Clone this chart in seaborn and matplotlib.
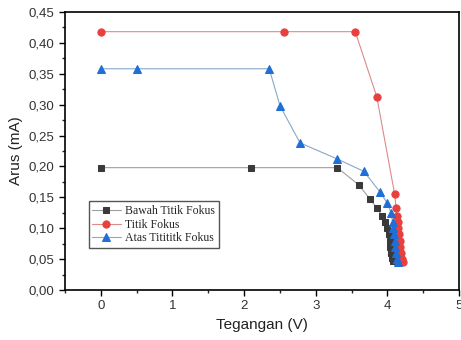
import matplotlib
matplotlib.use("Agg")
import matplotlib.pyplot as plt
import seaborn as sns
from matplotlib.ticker import MultipleLocator, FuncFormatter

sns.set_style("white")
plt.rcParams['font.family'] = ['Liberation Sans', 'DejaVu Sans']

# data
bawah_v = [0.0, 2.1, 3.3, 3.6, 3.75, 3.85, 3.92, 3.97, 4.0, 4.02, 4.03, 4.04, 4.05, 4.06, 4.07]
bawah_i = [0.198, 0.198, 0.198, 0.170, 0.148, 0.133, 0.120, 0.110, 0.100, 0.090, 0.080, 0.070, 0.060, 0.052, 0.047]

fokus_v = [0.0, 2.55, 3.55, 3.85, 4.1, 4.12, 4.13, 4.14, 4.15, 4.16, 4.17, 4.18, 4.19, 4.2, 4.21]
fokus_i = [0.418, 0.418, 0.418, 0.313, 0.155, 0.133, 0.120, 0.110, 0.100, 0.090, 0.080, 0.070, 0.060, 0.050, 0.045]

atas_v = [0.0, 0.5, 2.35, 2.5, 2.78, 3.3, 3.67, 3.9, 4.0, 4.05, 4.07, 4.08, 4.09, 4.1, 4.11, 4.12, 4.13, 4.14]
atas_i = [0.358, 0.358, 0.358, 0.298, 0.238, 0.212, 0.192, 0.158, 0.140, 0.125, 0.110, 0.100, 0.090, 0.080, 0.070, 0.060, 0.050, 0.045]

fig = plt.figure(figsize=(4.61, 3.4), dpi=100)
ax = fig.add_axes([0.141, 0.147, 0.855, 0.818])

sns.lineplot(x=bawah_v, y=bawah_i, sort=False, ax=ax, color='#a0a0a0', lw=0.8,
             marker='s', markersize=4.5, markerfacecolor='#3a3a3a', markeredgecolor='#3a3a3a',
             label='Bawah Titik Fokus')
sns.lineplot(x=fokus_v, y=fokus_i, sort=False, ax=ax, color='#dc8a8a', lw=0.8,
             marker='o', markersize=5.2, markerfacecolor='#e8403f', markeredgecolor='#e8403f',
             label='Titik Fokus')
sns.lineplot(x=atas_v, y=atas_i, sort=False, ax=ax, color='#88a9c6', lw=0.8,
             marker='^', markersize=5.8, markerfacecolor='#1f6fd6', markeredgecolor='#1f6fd6',
             label='Atas Titititk Fokus')

ax.set_xlim(-0.5, 5)
ax.set_ylim(0, 0.45)
ax.xaxis.set_major_locator(MultipleLocator(1))
ax.xaxis.set_minor_locator(MultipleLocator(0.5))
ax.yaxis.set_major_locator(MultipleLocator(0.05))
ax.yaxis.set_minor_locator(MultipleLocator(0.025))
ax.yaxis.set_major_formatter(FuncFormatter(lambda v, p: f"{v:.2f}".replace('.', ',')))
ax.tick_params(which='major', direction='out', length=4, width=1, labelsize=9.5,
               bottom=True, left=True, colors='black', labelcolor='#333333')
ax.tick_params(which='minor', direction='out', length=2.5, width=1, bottom=True, left=True)
for s in ax.spines.values():
    s.set_color('black')
    s.set_linewidth(1.2)

ax.set_xlabel("Tegangan (V)", fontsize=11, color='#222222')
ax.set_ylabel("Arus (mA)", fontsize=11, color='#222222')

ax.legend(loc='upper left', bbox_to_anchor=(0.045, 0.34), frameon=True, fancybox=False,
          edgecolor='#555555', framealpha=1, borderpad=0.3, labelspacing=0.15,
          handlelength=2.4, handletextpad=0.4,
          prop={'family': 'Liberation Serif', 'size': 8.5})

fig.savefig("out.png", dpi=100)
